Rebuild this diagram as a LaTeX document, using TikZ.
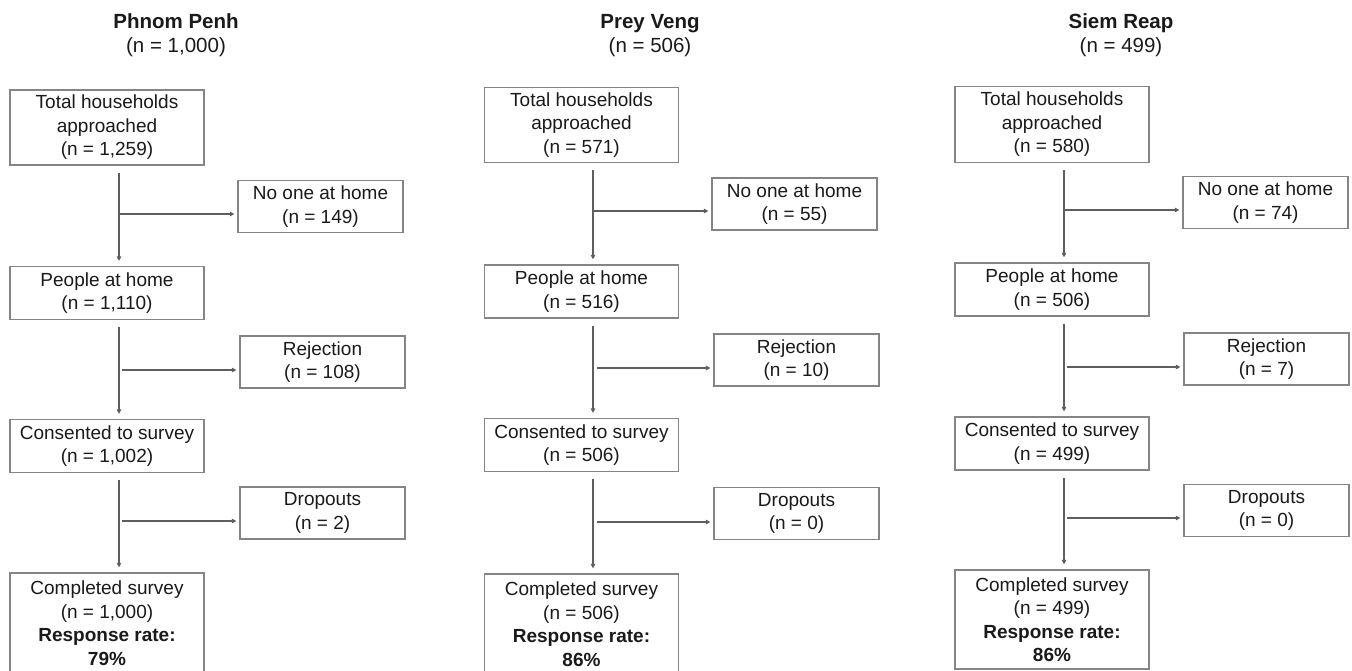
\documentclass[tikz,border=0pt]{standalone}
\usepackage{fontspec}
\setmainfont{Liberation Sans}
\usetikzlibrary{arrows.meta,calc}
\definecolor{textcol}{HTML}{1A1A1A}
\definecolor{boxgray}{HTML}{858585}
\definecolor{linegray}{HTML}{5E5E5E}
\begin{document}
\begin{tikzpicture}[x=1pt,y=-1pt,
  box/.style={draw=boxgray, line width=1.2pt, fill=white, inner sep=0pt, align=center, text=textcol, font=\fontsize{19}{23.5}\selectfont},
  mainbox/.style={box, minimum width=194pt},
  sidebox/.style={box, minimum width=165pt, minimum height=52pt},
  ttl/.style={align=center, text=textcol, font=\fontsize{20.5}{24}\selectfont},
  flow/.style={draw=linegray, line width=1.1pt, -{Triangle[length=4.5pt,width=4.5pt]}},
  down/.style={flow, shorten <=7pt, shorten >=5pt},
  side/.style={flow, shorten >=3pt}]
\useasboundingbox (0,0) rectangle (1352,670);

% ---------- Phnom Penh ----------
\node[ttl] (t1) at (176,35) {\textbf{Phnom Penh}\\(n = 1,000)};
\node[mainbox, minimum height=75pt] (a1) at (107,127.5) {Total households\\approached\\(n = 1,259)};
\node[sidebox] (a1s) at (320.5,206.5) {No one at home\\(n = 149)};
\node[mainbox, minimum height=53pt] (a2) at (107,293) {People at home\\(n = 1,110)};
\node[sidebox] (a2s) at (322.5,362) {Rejection\\(n = 108)};
\node[mainbox, minimum height=53pt] (a3) at (107,446) {Consented to survey\\(n = 1,002)};
\node[sidebox] (a3s) at (322.5,513) {Dropouts\\(n = 2)};
\node[mainbox, minimum height=100pt] (a4) at (107,623) {Completed survey\\(n = 1,000)\\\textbf{Response rate:}\\\textbf{79\%}};
\draw[down] ([xshift=12pt]a1.south) -- ([xshift=12pt]a2.north);
\draw[down] ([xshift=12pt]a2.south) -- ([xshift=12pt]a3.north);
\draw[down] ([xshift=12pt]a3.south) -- ([xshift=12pt]a4.north);
\coordinate (aj1) at (119,214);
\coordinate (aj2) at (122,370);
\coordinate (aj3) at (122,521);
\draw[side] (aj1) -- (aj1 -| a1s.west);
\draw[side] (aj2) -- (aj2 -| a2s.west);
\draw[side] (aj3) -- (aj3 -| a3s.west);

% ---------- Prey Veng ----------
\node[ttl] (t2) at (650,36) {\textbf{Prey Veng}\\(n = 506)};
\node[mainbox, minimum height=75pt] (b1) at (581.5,125) {Total households\\approached\\(n = 571)};
\node[sidebox] (b1s) at (794.5,204) {No one at home\\(n = 55)};
\node[mainbox, minimum height=53pt] (b2) at (581.5,291.5) {People at home\\(n = 516)};
\node[sidebox] (b2s) at (796.5,360) {Rejection\\(n = 10)};
\node[mainbox, minimum height=53pt] (b3) at (581.5,445) {Consented to survey\\(n = 506)};
\node[sidebox] (b3s) at (796.5,513.5) {Dropouts\\(n = 0)};
\node[mainbox, minimum height=100pt] (b4) at (581.5,624) {Completed survey\\(n = 506)\\\textbf{Response rate:}\\\textbf{86\%}};
\draw[down] ([xshift=11.5pt]b1.south) -- ([xshift=11.5pt]b2.north);
\draw[down] ([xshift=11.5pt]b2.south) -- ([xshift=11.5pt]b3.north);
\draw[down] ([xshift=11.5pt]b3.south) -- ([xshift=11.5pt]b4.north);
\coordinate (bj1) at (593,211);
\coordinate (bj2) at (597,368);
\coordinate (bj3) at (597,522);
\draw[side] (bj1) -- (bj1 -| b1s.west);
\draw[side] (bj2) -- (bj2 -| b2s.west);
\draw[side] (bj3) -- (bj3 -| b3s.west);

% ---------- Siem Reap ----------
\node[ttl] (t3) at (1121,35.5) {\textbf{Siem Reap}\\(n = 499)};
\node[mainbox, minimum height=76pt] (c1) at (1052,124.5) {Total households\\approached\\(n = 580)};
\node[sidebox] (c1s) at (1265.5,202.5) {No one at home\\(n = 74)};
\node[mainbox, minimum height=53pt] (c2) at (1052,289.5) {People at home\\(n = 506)};
\node[sidebox] (c2s) at (1266.5,359) {Rejection\\(n = 7)};
\node[mainbox, minimum height=53pt] (c3) at (1052,443.5) {Consented to survey\\(n = 499)};
\node[sidebox] (c3s) at (1266.5,510.5) {Dropouts\\(n = 0)};
\node[mainbox, minimum height=99pt] (c4) at (1052,619.5) {Completed survey\\(n = 499)\\\textbf{Response rate:}\\\textbf{86\%}};
\draw[down] ([xshift=12pt]c1.south) -- ([xshift=12pt]c2.north);
\draw[down] ([xshift=12pt]c2.south) -- ([xshift=12pt]c3.north);
\draw[down] ([xshift=12pt]c3.south) -- ([xshift=12pt]c4.north);
\coordinate (cj1) at (1064,210);
\coordinate (cj2) at (1067,367);
\coordinate (cj3) at (1067,518);
\draw[side] (cj1) -- (cj1 -| c1s.west);
\draw[side] (cj2) -- (cj2 -| c2s.west);
\draw[side] (cj3) -- (cj3 -| c3s.west);
\end{tikzpicture}
\end{document}
